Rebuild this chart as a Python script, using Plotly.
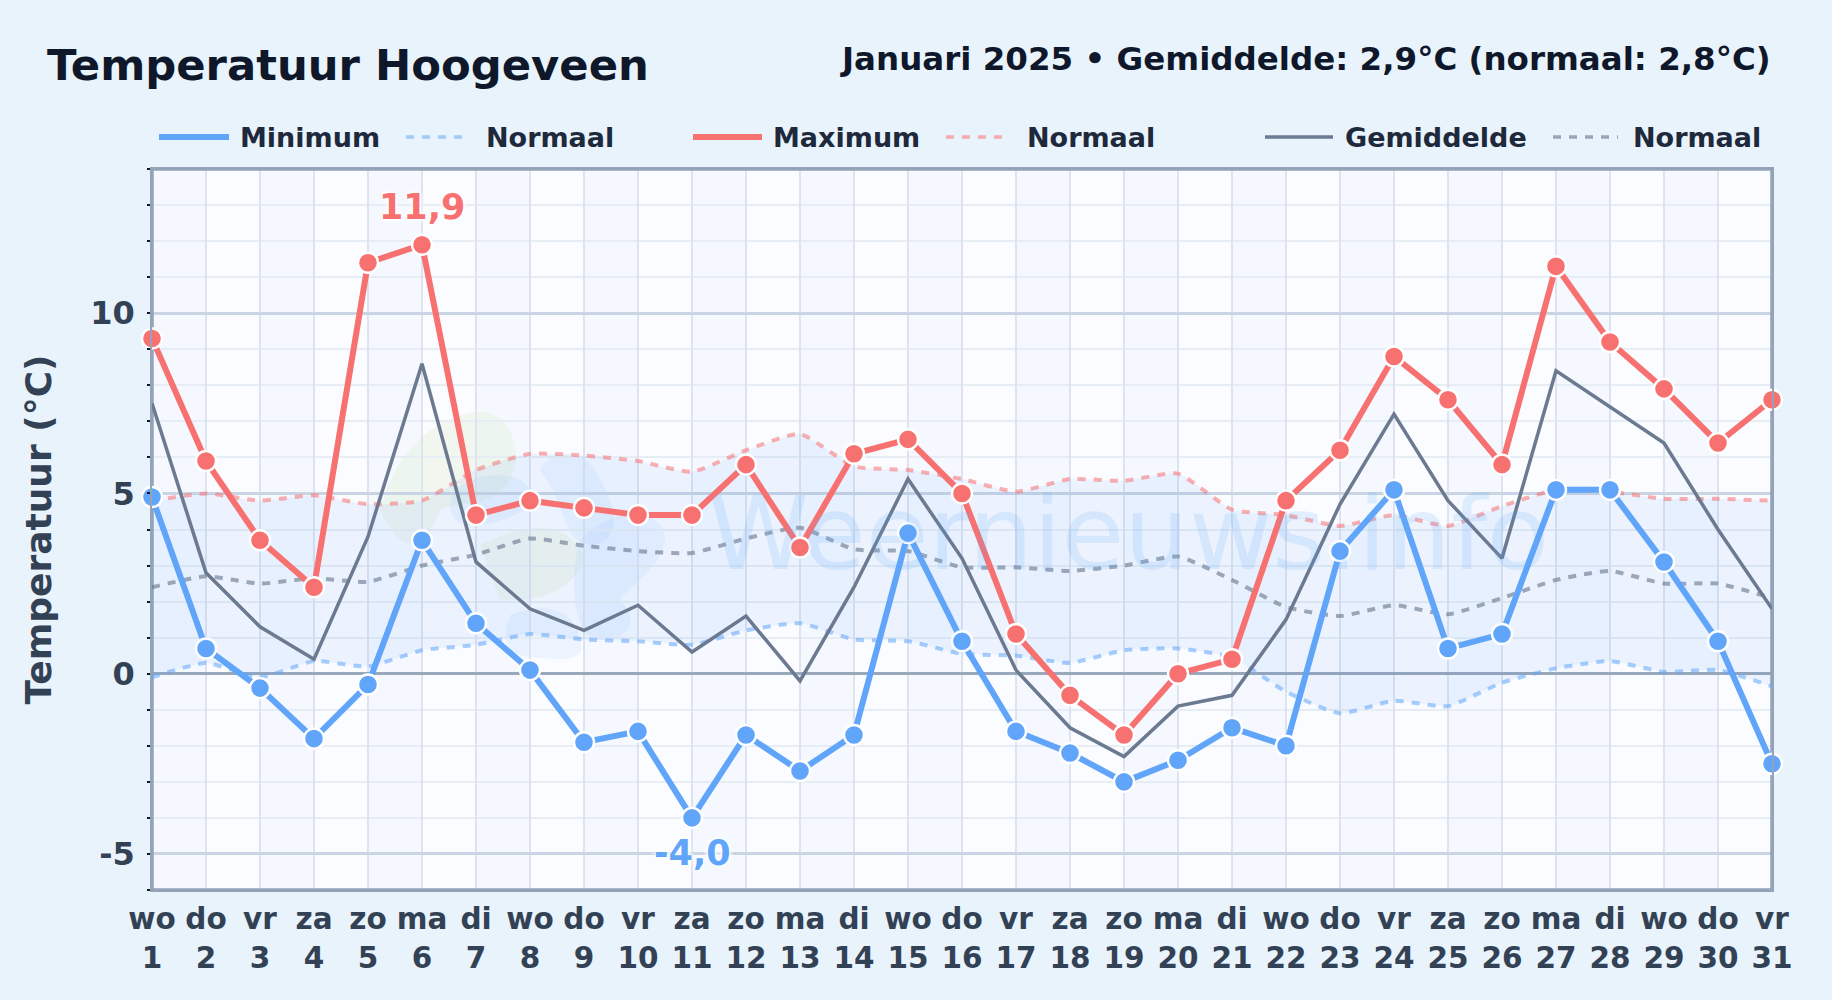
import plotly.graph_objects as go

W, H = 1832, 1000
L, R, T, B = 152, 1772, 169, 890

days = list(range(1, 32))
weekdays = ["wo","do","vr","za","zo","ma","di"] * 4 + ["wo","do","vr"]
y_min, y_max = -6, 14

temp_min = [4.9,0.7,-0.4,-1.8,-0.3,3.7,1.4,0.1,-1.9,-1.6,-4.0,-1.7,-2.7,-1.7,3.9,0.9,-1.6,-2.2,-3.0,-2.4,-1.5,-2.0,3.4,5.1,0.7,1.1,5.1,5.1,3.1,0.9,-2.5]
temp_max = [9.3,5.9,3.7,2.4,11.4,11.9,4.4,4.8,4.6,4.4,4.4,5.8,3.5,6.1,6.5,5.0,1.1,-0.6,-1.7,0.0,0.4,4.8,6.2,8.8,7.6,5.8,11.3,9.2,7.9,6.4,7.6]
temp_avg = [7.5,2.8,1.3,0.4,3.8,8.6,3.1,1.8,1.2,1.9,0.6,1.6,-0.2,2.4,5.4,3.2,0.1,-1.5,-2.3,-0.9,-0.6,1.5,4.7,7.2,4.8,3.2,8.4,7.4,6.4,4.0,1.8]
norm_min = [-0.1,0.3,-0.1,0.35,0.2,0.65,0.8,1.1,0.95,0.9,0.8,1.2,1.4,0.95,0.9,0.55,0.5,0.3,0.65,0.7,0.45,-0.5,-1.1,-0.75,-0.9,-0.25,0.15,0.35,0.05,0.1,-0.35]
norm_max = [4.8,5.0,4.8,4.95,4.7,4.8,5.65,6.1,6.05,5.9,5.6,6.2,6.65,5.75,5.65,5.4,5.05,5.4,5.35,5.55,4.55,4.4,4.1,4.4,4.1,4.65,5.1,5.05,4.85,4.85,4.8]
norm_avg = [2.4,2.7,2.5,2.65,2.55,3.0,3.3,3.75,3.55,3.4,3.35,3.75,4.05,3.45,3.4,2.95,2.95,2.85,3.0,3.25,2.6,1.85,1.6,1.9,1.65,2.1,2.6,2.85,2.5,2.5,2.1]

C_MIN, C_MAX, C_AVG = "#60a5fa", "#f87171", "#6b7a90"
C_NMIN, C_NMAX, C_NAVG = "rgba(96,165,250,0.55)", "rgba(248,113,113,0.55)", "rgba(100,116,139,0.6)"
C_FRAME = "#94a3b8"
FONT = "DejaVu Sans"
DASH = "8px,8px"

fig = go.Figure()

# inner half of the plot frame (the axis lines draw the outer half)
fig.add_trace(go.Scatter(x=[days[0], days[-1], days[-1], days[0], days[0]], y=[y_min, y_min, y_max, y_max, y_min],
                         mode="lines", showlegend=False, hoverinfo="skip",
                         line=dict(color=C_FRAME, width=3.5)))

def norm_trace(y, name, color, **kw):
    fig.add_trace(go.Scatter(x=days, y=y, name=name, mode="lines", showlegend=False, hoverinfo="skip",
                             line=dict(color=color, width=4, dash=DASH, shape="spline", smoothing=0.5), **kw))
norm_trace(norm_max, "Normaal", C_NMAX)
norm_trace(norm_min, "Normaal", C_NMIN, fill="tonexty", fillcolor="rgba(59,130,246,0.07)")
norm_trace(norm_avg, "Normaal", C_NAVG)
fig.add_trace(go.Scatter(x=days, y=temp_avg, name="Gemiddelde", mode="lines", showlegend=False,
                         line=dict(color=C_AVG, width=3.5)))
def main_trace(y, name, color):
    fig.add_trace(go.Scatter(x=days, y=y, name=name, mode="lines+markers", showlegend=False, cliponaxis=False,
                             line=dict(color=color, width=6),
                             marker=dict(size=20, color=color, line=dict(color="white", width=2.4))))
main_trace(temp_min, "Minimum", C_MIN)
main_trace(temp_max, "Maximum", C_MAX)

def paper_x(x): return (x - L) / (R - L)
def paper_y(y): return (B - y) / (B - T)

shapes, annots = [], []

# alternating day columns
for d in days[:-1:2]:
    shapes.append(dict(type="rect", xref="x", yref="paper", x0=d, x1=d + 1, y0=0, y1=1, layer="below",
                       line=dict(width=0), fillcolor="rgba(59,130,246,0.028)"))

# pale watermark logo blobs (page pixels)
def blob(points, color):
    d = f"M{paper_x(points[0][0]):.4f},{paper_y(points[0][1]):.4f}"
    for i in range(1, len(points), 3):
        c = points[i:i+3]
        d += " C" + " ".join(f"{paper_x(a):.4f},{paper_y(b):.4f}" for a, b in c)
    shapes.append(dict(type="path", path=d + " Z", xref="paper", yref="paper", layer="below",
                       line=dict(width=0), fillcolor=color))

GREEN = "rgba(214,234,190,0.24)"
BLUE = "rgba(147,197,253,0.13)"
blob([(380,510),(400,440),(440,420),(470,413),(510,405),(525,450),(510,480),(490,510),(460,500),(440,510),(420,560),(400,550),(380,510)], GREEN)
blob([(480,545),(530,520),(570,520),(585,560),(565,600),(530,600),(500,600),(485,580),(480,545)], GREEN)
blob([(455,490),(480,470),(520,470),(530,490),(540,510),(500,525),(470,525),(450,525),(445,505),(455,490)], BLUE)
blob([(540,470),(550,445),(590,450),(600,480),(620,510),(620,545),(590,545),(560,540),(570,510),(540,470)], BLUE)
blob([(580,540),(620,500),(665,510),(665,540),(660,570),(630,585),(620,600),(640,620),(630,640),(600,640),(570,640),(570,570),(580,540)], BLUE)
blob([(510,615),(550,600),(575,610),(580,640),(590,665),(550,660),(520,655),(500,650),(505,630),(510,615)], BLUE)

annots.append(dict(text="Weernieuws.info", xref="paper", yref="paper", x=paper_x(1128), y=paper_y(533),
                   xanchor="center", yanchor="middle", showarrow=False,
                   font=dict(family=FONT, size=102, color="rgba(96,165,250,0.16)")))

# header
annots.append(dict(text="<b>Temperatuur Hoogeveen</b>", xref="paper", yref="paper", x=paper_x(45), y=paper_y(65),
                   xanchor="left", yanchor="middle", showarrow=False, font=dict(family=FONT, size=43.3, color="#0f172a")))
annots.append(dict(text="<b>Januari 2025 • Gemiddelde: 2,9°C (normaal: 2,8°C)</b>", xref="paper", yref="paper",
                   x=paper_x(1773), y=paper_y(59), xanchor="right", yanchor="middle", showarrow=False,
                   font=dict(family=FONT, size=32.5, color="#0f172a")))

# legend row
legend_items = [
    ("Minimum", C_MIN, 6, None, 159, 229, 238),
    ("Normaal", C_NMIN, 3.5, DASH, 406, 464, 484),
    ("Maximum", C_MAX, 6, None, 693, 762, 771),
    ("Normaal", C_NMAX, 3.5, DASH, 946, 1005, 1025),
    ("Gemiddelde", C_AVG, 3.5, None, 1265, 1333, 1343),
    ("Normaal", C_NAVG, 3.5, DASH, 1553, 1618, 1631),
]
for name, color, width, dash, x0, x1, xt in legend_items:
    line = dict(color=color, width=width)
    if dash: line["dash"] = dash
    shapes.append(dict(type="line", xref="paper", yref="paper", x0=paper_x(x0), x1=paper_x(x1),
                       y0=paper_y(137), y1=paper_y(137), line=line))
    annots.append(dict(text=f"<b>{name}</b>", xref="paper", yref="paper", x=paper_x(xt), y=paper_y(137),
                       xanchor="left", yanchor="middle", showarrow=False, font=dict(family=FONT, size=27, color="#1e293b")))

# extreme labels
HALO = "0 0 4px #fff, 0 0 4px #fff, 0 0 6px #fff"
hi = temp_max.index(max(temp_max)); lo = temp_min.index(min(temp_min))
annots.append(dict(text="<b>" + f"{temp_max[hi]:.1f}".replace(".", ",") + "</b>", x=days[hi], y=temp_max[hi], yshift=38,
                   showarrow=False, font=dict(family=FONT, size=35, color=C_MAX, shadow=HALO)))
annots.append(dict(text="<b>" + f"{temp_min[lo]:.1f}".replace(".", ",") + "</b>", x=days[lo], y=temp_min[lo], yshift=-35,
                   showarrow=False, font=dict(family=FONT, size=35, color=C_MIN, shadow=HALO)))

fig.update_layout(
    width=W, height=H, autosize=False,
    margin=dict(l=L, r=W-R, t=T, b=H-B, pad=0),
    paper_bgcolor="#e8f3fc", plot_bgcolor="#fafcff",
    font=dict(family=FONT, color="#334155"),
    showlegend=False, shapes=shapes, annotations=annots,
    xaxis=dict(range=[days[0], days[-1]], tickmode="array", tickvals=days,
               ticktext=[f"<b>{w}</b><br><b>{d}</b>" for w, d in zip(weekdays, days)],
               tickangle=0, tickfont=dict(size=29.5, color="#334155", family=FONT), ticks="", ticklen=0, ticklabelstandoff=2,
               showgrid=True, gridcolor="#dde4ef", gridwidth=2, zeroline=False,
               showline=True, mirror=True, linecolor=C_FRAME, linewidth=1.75),
    yaxis=dict(range=[y_min, y_max], tickmode="array", tickvals=[-5, 0, 5, 10], ticktext=["<b>-5</b>", "<b>0</b>", "<b>5</b>", "<b>10</b>"],
               tickfont=dict(size=32, color="#334155", family=FONT), ticks="", ticklabelstandoff=9,
               showgrid=True, gridcolor="#c9d5e5", gridwidth=3,
               zeroline=True, zerolinecolor="#9aa8bb", zerolinewidth=3,
               showline=True, mirror=True, linecolor=C_FRAME, linewidth=1.75,
               minor=dict(tickmode="linear", tick0=0, dtick=1, ticks="outside", ticklen=3, tickwidth=2, tickcolor="#111827",
                          showgrid=True, gridcolor="#e7edf4", gridwidth=2),
               title=dict(text="<b>Temperatuur (°C)</b>", standoff=28, font=dict(size=36, color="#334155", family=FONT))),
)

fig.write_html("out.html", config=dict(displayModeBar=False), post_script="document.body.style.margin='0';")
